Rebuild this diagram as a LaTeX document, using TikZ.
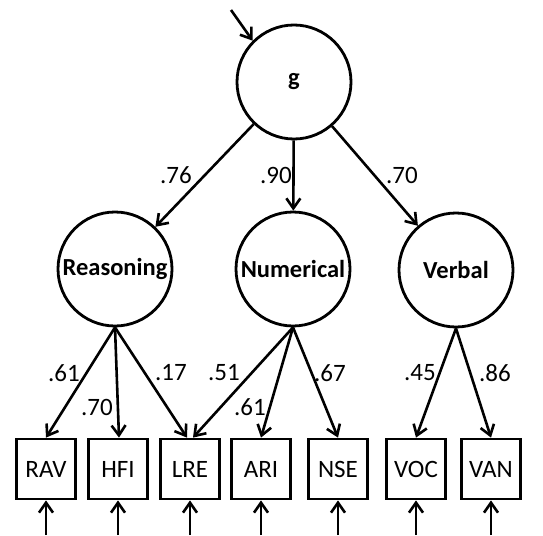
\documentclass[tikz,border=0pt]{standalone}
\usepackage{fontspec}
\setmainfont{Carlito}
\usetikzlibrary{arrows.meta}
\begin{document}
\begin{tikzpicture}[x=1pt,y=-1pt,
  lat/.style={draw,line width=2.8pt,circle,minimum size=114pt,inner sep=0pt,font=\fontsize{24.5}{28}\selectfont\bfseries},
  obs/.style={draw,line width=2.8pt,rectangle,minimum width=59pt,minimum height=60pt,inner sep=0pt,font=\fontsize{25}{28}\selectfont},
  arr/.style={line width=2.6pt,-{Straight Barb[length=10pt,width=14pt,line width=2.6pt]}},
  lbl/.style={font=\fontsize{25}{28}\selectfont,inner sep=0pt}]
\useasboundingbox (0,0) rectangle (543,535);
\node[lat] (g) at (294,82) {g};
\node[lat] (R) at (115,269) {Reasoning};
\node[lat] (N) at (293,269) {Numerical};
\node[lat] (V) at (456,270) {Verbal};
\node[obs] (RAV) at (46,469) {RAV};
\node[obs] (HFI) at (118,469) {HFI};
\node[obs] (LRE) at (190,469) {LRE};
\node[obs] (ARI) at (261,469) {ARI};
\node[obs] (NSE) at (338,469) {NSE};
\node[obs] (VOC) at (416,469) {VOC};
\node[obs] (VAN) at (491,469) {VAN};
\coordinate (top) at (231,10);
\draw[arr] (top) -- (g.135);
\draw[arr] (g) -- (R);
\draw[arr] (g) -- (N);
\draw[arr] (g) -- (V);
\draw[arr] (R.south) -- (RAV.north);
\draw[arr] (R.south) -- ([xshift=1pt]HFI.north);
\draw[arr] (R.south) -- ([xshift=-3pt]LRE.north);
\draw[arr] (N.south) -- ([xshift=3pt]LRE.north);
\draw[arr] (N.south) -- (ARI.north);
\draw[arr] (N.south) -- (NSE.north);
\draw[arr] (V.south) -- (VOC.north);
\draw[arr] (V.south) -- (VAN.north);
\foreach \b in {RAV,HFI,LRE,ARI,NSE,VOC,VAN}{
  \coordinate (\b-e) at (\b.south |- 0,535);
  \draw[arr] (\b-e) -- (\b.south);
}
\node[lbl] (l1) at (176,175) {.76};
\node[lbl] (l2) at (276,175) {.90};
\node[lbl] (l3) at (402,175) {.70};
\node[lbl] (l4) at (64,373) {.61};
\node[lbl] (l5) at (171,373) {.17};
\node[lbl] (l6) at (224,373) {.51};
\node[lbl] (l7) at (330,373) {.67};
\node[lbl] (l8) at (420,373) {.45};
\node[lbl] (l9) at (495,373) {.86};
\node[lbl] (l10) at (97,407) {.70};
\node[lbl] (l11) at (250,407) {.61};
\end{tikzpicture}
\end{document}
